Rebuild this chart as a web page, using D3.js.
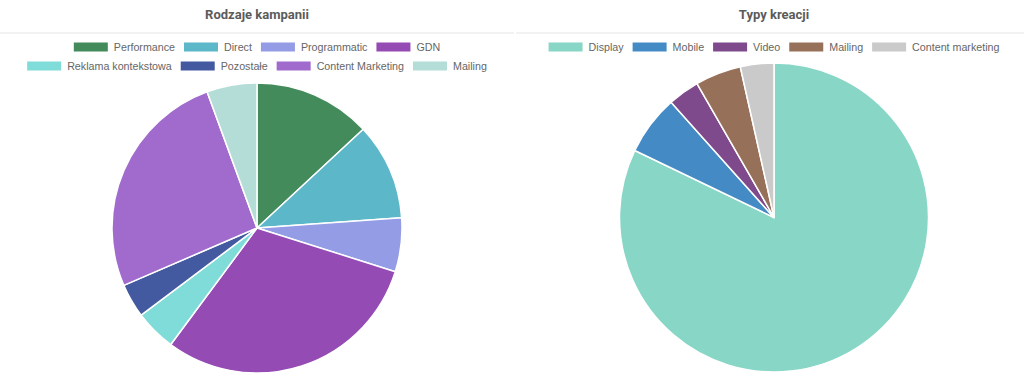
<!DOCTYPE html>
<html><head><meta charset="utf-8">
<script src="https://cdn.jsdelivr.net/npm/d3@7"></script>
<style>
html,body{margin:0;padding:0;background:#fff;}
svg{display:block;}
</style></head>
<body>
<svg id="c" width="1024" height="389"></svg>
<script>
// Left chart: Rodzaje kampanii
const leftTitle = "Rodzaje kampanii";
const leftCategories = ["Performance","Direct","Programmatic","GDN","Reklama kontekstowa","Pozostałe","Content Marketing","Mailing"];
const leftValues = [13.1, 10.8, 6.0, 30.3, 4.6, 3.8, 25.9, 5.6];
const leftColors = ["#448b5b","#5cb8c8","#939ce4","#954bb4","#7fdcd8","#435aa0","#a16bce","#b4ddd8"];

// Right chart: Typy kreacji
const rightTitle = "Typy kreacji";
const rightCategories = ["Display","Mobile","Video","Mailing","Content marketing"];
const rightValues = [82.1, 6.25, 3.3, 4.8, 3.5];
const rightColors = ["#88d6c6","#448bc6","#7e4a8c","#977059","#cacaca"];

const svg = d3.select("#c");

function drawPanel(opts){
  const g = svg.append("g");
  // title
  g.append("text")
    .attr("x", opts.cx).attr("y", 19)
    .attr("text-anchor","middle")
    .attr("font-family","Roboto, sans-serif")
    .attr("font-weight","700")
    .attr("font-size","13px")
    .attr("fill","#5b5b5b")
    .text(opts.title);
  // separator
  g.append("rect")
    .attr("x", opts.x0).attr("y", 32)
    .attr("width", opts.x1 - opts.x0).attr("height", 2)
    .attr("fill", "#f2f2f2");

  // legend
  const boxW = 34, boxH = 9, gapT = 6, gapItem = 9, fs = 10.7;
  const measure = svg.append("text").attr("font-family","'Liberation Sans', Arial, sans-serif").attr("font-size", fs+"px");
  const items = opts.categories.map((c,i)=>{
    measure.text(c);
    const w = measure.node().getComputedTextLength();
    return {label:c, color:opts.colors[i], w: boxW + gapT + w};
  });
  measure.remove();
  opts.rows.forEach((rowIdx, r) => {
    const rowItems = rowIdx.map(i=>items[i]);
    const total = d3.sum(rowItems, d=>d.w) + gapItem*(rowItems.length-1);
    let x = opts.cx - total/2;
    const yc = 47 + r*19;
    rowItems.forEach(it=>{
      g.append("rect").attr("x", x).attr("y", yc-4.5).attr("width", boxW).attr("height", boxH)
        .attr("fill", it.color);
      g.append("text").attr("x", x+boxW+gapT).attr("y", yc+4)
        .attr("font-family","'Liberation Sans', Arial, sans-serif")
        .attr("font-size", fs+"px").attr("fill","#666")
        .text(it.label);
      x += it.w + gapItem;
    });
  });

  // pie
  const data = opts.categories.map((c,i)=>({label:c, value:opts.values[i], color:opts.colors[i]}));
  const pie = d3.pie().value(d=>d.value).sort(null);
  const arc = d3.arc().innerRadius(0).outerRadius(opts.r);
  g.append("g").attr("transform", `translate(${opts.cx},${opts.cy})`)
    .selectAll("path").data(pie(data)).join("path")
    .attr("d", arc)
    .attr("fill", d=>d.data.color)
    .attr("stroke","#fff").attr("stroke-width",1.5).attr("stroke-linejoin","round");
}

drawPanel({title:leftTitle, categories:leftCategories, values:leftValues, colors:leftColors,
  cx:257, cy:228, r:145, x0:0, x1:514, rows:[[0,1,2,3],[4,5,6,7]]});
drawPanel({title:rightTitle, categories:rightCategories, values:rightValues, colors:rightColors,
  cx:774, cy:217.5, r:154.5, x0:516, x1:1024, rows:[[0,1,2,3,4]]});
</script>
</body></html>
